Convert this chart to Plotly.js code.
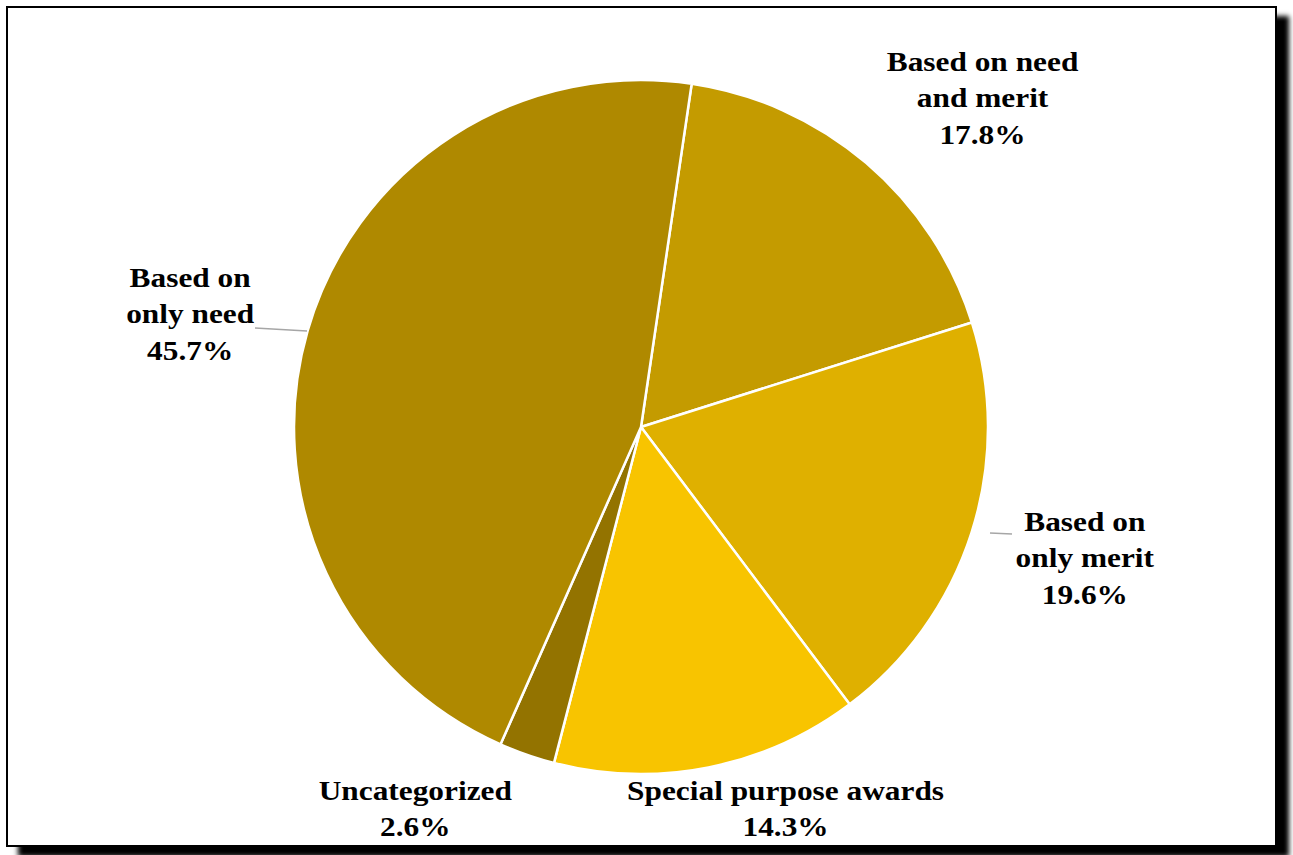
<!DOCTYPE html>
<html>
<head>
<meta charset="utf-8">
<script src="https://cdn.plot.ly/plotly-3.0.1.min.js"></script>
<style>
html,body{margin:0;padding:0;background:#fff;width:1293px;height:855px;overflow:hidden;}
#frame{position:absolute;left:6px;top:6px;width:1267px;height:837px;border:2px solid #000;background:#fff;box-shadow:12px 10px 5px #000;}
#chart{position:absolute;left:0;top:0;width:1293px;height:855px;}
#chart text.annotation-text{transform-box:fill-box;transform-origin:center;transform:scaleX(1.12);}
</style>
</head>
<body>
<div id="frame"></div>
<div id="chart"></div>
<script>
const categories = ['Based on need and merit', 'Based on only merit', 'Special purpose awards', 'Uncategorized', 'Based on only need'];
const labelLines = ['Based on need<br>and merit', 'Based on<br>only merit', 'Special purpose awards', 'Uncategorized', 'Based on<br>only need'];
const values = [17.8, 19.6, 14.3, 2.6, 45.7];
const colors = ['#C49B00', '#DFB000', '#F8C400', '#937300', '#AF8900'];

const W = 1293, H = 855;
const cx = 641, cy = 427, R = 347;

// label anchor positions (pixels) for each category
const labelPos = [[983, 98], [1085, 558], [785, 808], [415, 808], [190, 314]];

const annotations = categories.map((c, i) => ({
  xref: 'paper', yref: 'paper',
  x: labelPos[i][0] / W, y: 1 - labelPos[i][1] / H,
  xanchor: 'center', yanchor: 'middle',
  text: labelLines[i] + '<br>' + values[i].toFixed(1) + '%',
  showarrow: false,
  font: {family: 'Liberation Serif, Times New Roman, serif', size: 28, color: '#000', weight: 'bold'},
  align: 'center'
}));

const shapes = [
  {type: 'line', xref: 'paper', yref: 'paper', x0: 255 / W, y0: 1 - 328 / H, x1: 307 / W, y1: 1 - 331 / H, line: {color: '#A6A6A6', width: 1.5}},
  {type: 'line', xref: 'paper', yref: 'paper', x0: 990 / W, y0: 1 - 533 / H, x1: 1012 / W, y1: 1 - 534 / H, line: {color: '#A6A6A6', width: 1.5}}
];

const data = [{
  type: 'pie',
  labels: categories,
  values: values,
  sort: false,
  direction: 'clockwise',
  rotation: 8.4,
  marker: {colors: colors, line: {color: '#FFFFFF', width: 2.5}},
  textinfo: 'none',
  hoverinfo: 'label+percent',
  showlegend: false,
  domain: {x: [(cx - R) / W, (cx + R) / W], y: [1 - (cy + R) / H, 1 - (cy - R) / H]}
}];

const layout = {
  width: W, height: H,
  margin: {l: 0, r: 0, t: 0, b: 0},
  paper_bgcolor: 'rgba(0,0,0,0)',
  plot_bgcolor: 'rgba(0,0,0,0)',
  showlegend: false,
  annotations: annotations,
  shapes: shapes
};

Plotly.newPlot('chart', data, layout, {displayModeBar: false, staticPlot: true});
</script>
</body>
</html>
